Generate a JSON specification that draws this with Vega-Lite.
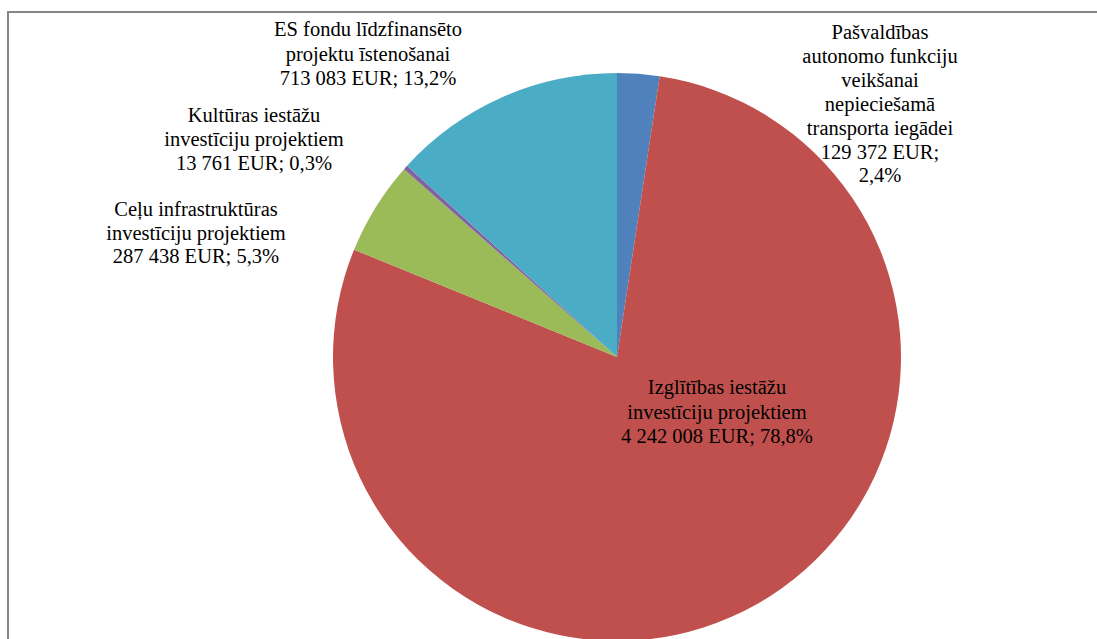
{
  "$schema": "https://vega.github.io/schema/vega-lite/v6.json",
  "width": 1218,
  "height": 690,
  "autosize": {"type": "none"},
  "padding": {"left": 8, "top": 12, "right": -129, "bottom": -63},
  "background": "white",
  "config": {"view": {"stroke": "#868686", "strokeWidth": 2}, "text": {"font": "Liberation Serif", "fontSize": 20.5, "color": "black"}},
  "data": {
    "values": [
      {"order": 1, "category": "Pašvaldības autonomo funkciju veikšanai nepieciešamā transporta iegādei", "value": 129372, "label": "Pašvaldības\nautonomo funkciju\nveikšanai\nnepieciešamā\ntransporta iegādei\n129 372 EUR;\n2,4%"},
      {"order": 2, "category": "Izglītības iestāžu investīciju projektiem", "value": 4242008, "label": "Izglītības iestāžu\ninvestīciju projektiem\n4 242 008 EUR; 78,8%"},
      {"order": 3, "category": "Ceļu infrastruktūras investīciju projektiem", "value": 287438, "label": "Ceļu infrastruktūras\ninvestīciju projektiem\n287 438 EUR; 5,3%"},
      {"order": 4, "category": "Kultūras iestāžu investīciju projektiem", "value": 13761, "label": "Kultūras iestāžu\ninvestīciju projektiem\n13 761 EUR; 0,3%"},
      {"order": 5, "category": "ES fondu līdzfinansēto projektu īstenošanai", "value": 713083, "label": "ES fondu līdzfinansēto\nprojektu īstenošanai\n713 083 EUR; 13,2%"}
    ]
  },
  "layer": [
    {
      "mark": {"type": "point", "opacity": 0},
      "encoding": {
        "x": {"field": "value", "type": "quantitative", "axis": null},
        "y": {"field": "order", "type": "quantitative", "axis": null}
      }
    },
    {
      "mark": {"type": "arc", "outerRadius": 284},
      "encoding": {
        "theta": {"field": "value", "type": "quantitative", "stack": true},
        "order": {"field": "order", "type": "quantitative"},
        "color": {
          "field": "category",
          "type": "nominal",
          "scale": {
            "domain": [
              "Pašvaldības autonomo funkciju veikšanai nepieciešamā transporta iegādei",
              "Izglītības iestāžu investīciju projektiem",
              "Ceļu infrastruktūras investīciju projektiem",
              "Kultūras iestāžu investīciju projektiem",
              "ES fondu līdzfinansēto projektu īstenošanai"
            ],
            "range": ["#4F81BD", "#C0504D", "#9BBB59", "#8064A2", "#4BACC6"]
          },
          "legend": null
        }
      }
    },
    {
      "transform": [{"filter": "datum.order == 1"}],
      "mark": {"type": "text", "font": "Liberation Serif", "fontSize": 20.5, "lineHeight": 23.9, "lineBreak": "\n", "align": "center", "baseline": "middle", "color": "black", "dx": 263, "dy": -324},
      "encoding": {"text": {"field": "label", "type": "nominal"}}
    },
    {
      "transform": [{"filter": "datum.order == 2"}],
      "mark": {"type": "text", "font": "Liberation Serif", "fontSize": 20.5, "lineHeight": 24.5, "lineBreak": "\n", "align": "center", "baseline": "middle", "color": "black", "dx": 100, "dy": 31},
      "encoding": {"text": {"field": "label", "type": "nominal"}}
    },
    {
      "transform": [{"filter": "datum.order == 3"}],
      "mark": {"type": "text", "font": "Liberation Serif", "fontSize": 20.5, "lineHeight": 23.7, "lineBreak": "\n", "align": "center", "baseline": "middle", "color": "black", "dx": -421, "dy": -147},
      "encoding": {"text": {"field": "label", "type": "nominal"}}
    },
    {
      "transform": [{"filter": "datum.order == 4"}],
      "mark": {"type": "text", "font": "Liberation Serif", "fontSize": 20.5, "lineHeight": 24, "lineBreak": "\n", "align": "center", "baseline": "middle", "color": "black", "dx": -363, "dy": -241},
      "encoding": {"text": {"field": "label", "type": "nominal"}}
    },
    {
      "transform": [{"filter": "datum.order == 5"}],
      "mark": {"type": "text", "font": "Liberation Serif", "fontSize": 20.5, "lineHeight": 24.5, "lineBreak": "\n", "align": "center", "baseline": "middle", "color": "black", "dx": -249, "dy": -327},
      "encoding": {"text": {"field": "label", "type": "nominal"}}
    }
  ]
}
